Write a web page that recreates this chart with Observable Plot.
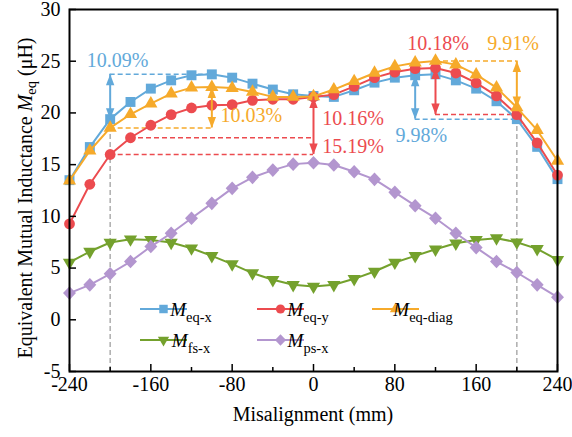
<!DOCTYPE html>
<html><head><meta charset="utf-8">
<script src="https://cdn.jsdelivr.net/npm/d3@7"></script>
<script src="https://cdn.jsdelivr.net/npm/@observablehq/plot@0.6"></script>
<style>
html,body{margin:0;padding:0;background:#fff;}
#chart{width:572px;height:437px;}
#chart svg, #chart svg text, #chart svg tspan { font-family: "Liberation Serif", "Times New Roman", serif !important; }
</style></head><body><div id="chart"></div>
<script>
// ---------- data ----------
const misalignment = [-240,-220,-200,-180,-160,-140,-120,-100,-80,-60,-40,-20,0,20,40,60,80,100,120,140,160,180,200,220,240];
const mEqX    = [13.5,16.7,19.4,21.06,22.35,23.15,23.64,23.73,23.41,22.83,22.26,21.8,21.64,21.55,22.19,22.93,23.41,23.64,23.73,23.15,22.35,21.13,19.4,16.72,13.6];
const mEqY    = [9.27,13.1,15.98,17.6,18.81,19.84,20.48,20.74,20.8,21.22,21.32,21.32,21.55,21.77,22.57,23.41,23.95,24.28,24.34,23.86,22.9,21.64,19.84,17.11,13.99];
const mEqDiag = [13.45,16.34,18.55,19.87,20.9,21.87,22.45,22.5,22.4,22.03,21.55,21.55,21.6,22.26,23.06,23.86,24.5,24.86,25.02,24.67,23.7,22.45,20.52,18.33,15.37];
const mFsX    = [5.54,6.6,7.47,7.79,7.72,7.47,6.92,6.18,5.38,4.51,3.87,3.38,3.22,3.38,3.96,4.67,5.54,6.18,6.82,7.4,7.72,7.89,7.5,6.86,5.8];
const mPsX    = [2.58,3.38,4.45,5.63,7.08,8.37,9.82,11.26,12.71,13.77,14.47,15.05,15.18,14.96,14.31,13.58,12.32,11.03,9.82,8.37,6.98,5.63,4.57,3.38,2.19];

const seriesValues = [mEqX, mEqY, mEqDiag, mFsX, mPsX];
const seriesSubs   = ["eq-x", "eq-y", "eq-diag", "fs-x", "ps-x"];
const seriesColors = ["#62A9DA", "#EC4B4F", "#F6AA2B", "#74A12D", "#B396CF"];

const xTickLabels = [-240,-160,-80,0,80,160,240];
const xMinorTicks = [-200,-120,-40,40,120,200];
const yTickLabels = [-5,0,5,10,15,20,25,30];

// annotation definitions (x positions refer to misalignment values)
const grayGuides = [{x:-200, s:2}, {x:200, s:0}];
const dashedGuides = [
  {s:0, x1:-200, x2:-100, at:-100},
  {s:2, x1:-200, x2:-100, at:-200},
  {s:1, x1:-180, x2:0, at:-180},
  {s:1, x1:-200, x2:0, at:-200},
  {s:0, x1:100, x2:200, at:200},
  {s:1, x1:120, x2:200, at:200},
  {s:2, x1:120, x2:200, at:120}
];
const arrows = [
  {s:0, x:-200, top:-100, bottom:-200},
  {s:2, x:-100, top:-100, bottom:-200},
  {s:1, x:0,    top:0,    bottom:-200},
  {s:0, x:100,  top:100,  bottom:200},
  {s:1, x:120,  top:120,  bottom:200},
  {s:2, x:200,  top:120,  bottom:200}
];
const percentLabels = [
  {s:0, text:"10.09%", x:-223, y:25.1},
  {s:2, text:"10.03%", x:-91.5, y:19.75},
  {s:1, text:"10.16%", x:8.5, y:19.43},
  {s:1, text:"15.19%", x:8.5, y:16.75},
  {s:0, text:"9.98%", x:80.6, y:17.8},
  {s:1, text:"10.18%", x:92.2, y:26.68},
  {s:2, text:"9.91%", x:170.8, y:26.68}
];

// ---------- helpers ----------
const val = (s, x) => seriesValues[s][misalignment.indexOf(x)];
const R = size => Math.sqrt(size / Math.PI);
const symSquare = {draw(c, size){const h = R(size)*0.92; c.rect(-h,-h,2*h,2*h);}};
const symCircle = {draw(c, size){const r = R(size); c.moveTo(r,0); c.arc(0,0,r,0,2*Math.PI);}};
const symTriUp = {draw(c, size){const s = R(size)*2.45, h = s*Math.sqrt(3)/2; c.moveTo(0,-2*h/3); c.lineTo(s/2,h/3); c.lineTo(-s/2,h/3); c.closePath();}};
const symTriDown = {draw(c, size){const s = R(size)*2.45, h = s*Math.sqrt(3)/2; c.moveTo(0,2*h/3); c.lineTo(s/2,-h/3); c.lineTo(-s/2,-h/3); c.closePath();}};
const symDiamond = {draw(c, size){const r = R(size)*1.2; c.moveTo(0,-r*1.05); c.lineTo(r,0); c.lineTo(0,r*1.05); c.lineTo(-r,0); c.closePath();}};
const seriesSymbols = [symSquare, symCircle, symTriUp, symTriDown, symDiamond];
const headUp = {draw(c){c.moveTo(0,0); c.lineTo(4.2,11); c.lineTo(-4.2,11); c.closePath();}};
const headDown = {draw(c){c.moveTo(0,0); c.lineTo(4.2,-11); c.lineTo(-4.2,-11); c.closePath();}};

const W = 572, H = 437, mL = 69, mR = 15, mT = 9, mB = 66;
const plotW = W - mL - mR, plotH = H - mT - mB;
const FONT = "Liberation Serif, Times New Roman, serif";

const rows = seriesValues.map((vals, s) => misalignment.map((x, i) => ({x, y: vals[i], s})));

const seriesMarks = rows.flatMap((data, s) => [
  Plot.line(data, {x: "x", y: "y", stroke: seriesColors[s], strokeWidth: 2}),
  Plot.dot(data, {x: "x", y: "y", fill: seriesColors[s], r: 5.4, symbol: seriesSymbols[s]})
]);

const arrowRows = arrows.map(a => ({x: a.x, y1: val(a.s, a.top), y2: val(a.s, a.bottom), c: seriesColors[a.s]}));

const plot = Plot.plot({
  width: W, height: H, marginLeft: mL, marginRight: mR, marginTop: mT, marginBottom: mB,
  style: {fontFamily: FONT, fontSize: "20px", background: "white", color: "black", overflow: "visible"},
  x: {domain: [-240, 240]},
  y: {domain: [-5, 30]},
  marks: [
    Plot.ruleX(grayGuides, {x: "x", y1: -5, y2: d => val(d.s, d.x), stroke: "#ADADAD", strokeWidth: 1.5, strokeDasharray: "5,3"}),
    Plot.ruleY(dashedGuides, {y: d => val(d.s, d.at), x1: "x1", x2: "x2", stroke: d => seriesColors[d.s], strokeWidth: 1.5, strokeDasharray: "5,3"}),
    ...seriesMarks,
    Plot.ruleX(arrowRows, {x: "x", y1: "y1", y2: "y2", stroke: "c", strokeWidth: 2}),
    Plot.dot(arrowRows, {x: "x", y: "y1", fill: "c", symbol: headUp, r: 4}),
    Plot.dot(arrowRows, {x: "x", y: "y2", fill: "c", symbol: headDown, r: 4}),
    Plot.text(percentLabels, {x: "x", y: "y", text: "text", fill: d => seriesColors[d.s], textAnchor: "start", fontSize: 20}),
    Plot.tickX(xTickLabels, {x: d => d, insetTop: plotH - 7, stroke: "black", strokeWidth: 1.5}),
    Plot.tickX(xMinorTicks, {x: d => d, insetTop: plotH - 4, stroke: "black", strokeWidth: 1.5}),
    Plot.tickY(yTickLabels, {y: d => d, insetRight: plotW - 7, stroke: "black", strokeWidth: 1.5}),
    Plot.frame({stroke: "black", strokeWidth: 2}),
    Plot.axisX({ticks: xTickLabels, tickSize: 0, tickPadding: 5, tickFormat: d => String(d), fontSize: 20, label: null}),
    Plot.axisY({ticks: yTickLabels, tickSize: 0, tickPadding: 9, tickFormat: d => String(d), fontSize: 20, label: null})
  ]
});

const svg = d3.select(plot);

// axis titles
svg.append("text")
  .attr("x", mL + plotW / 2).attr("y", 421)
  .attr("text-anchor", "middle").attr("font-size", 20).attr("fill", "black")
  .text("Misalignment (mm)");

const yt = svg.append("text")
  .attr("transform", `translate(32,${mT + plotH / 2 + 8}) rotate(-90)`)
  .attr("text-anchor", "middle").attr("font-size", 20).attr("fill", "black");
yt.append("tspan").text("Equivalent Mutual Inductance ");
yt.append("tspan").attr("font-style", "italic").text("M");
yt.append("tspan").attr("font-size", 14.5).attr("dy", 4).text("eq");
yt.append("tspan").attr("dy", -4).text(" (\u03BCH)");

// legend
const legendPos = [
  {lx: 140, ly: 309}, {lx: 257, ly: 309}, {lx: 372, ly: 309},
  {lx: 140, ly: 340}, {lx: 257, ly: 340}
];
const lg = svg.append("g");
seriesSubs.forEach((sub, s) => {
  const {lx, ly} = legendPos[s];
  const g = lg.append("g").attr("transform", `translate(${lx},${ly})`);
  g.append("line").attr("x1", 0).attr("x2", 47).attr("y1", 0).attr("y2", 0)
    .attr("stroke", seriesColors[s]).attr("stroke-width", 2);
  g.append("path").attr("transform", "translate(23.5,0)")
    .attr("d", d3.symbol(seriesSymbols[s], Math.PI * 4.6 * 4.6)())
    .attr("fill", seriesColors[s]);
  const t = g.append("text").attr("x", 51).attr("y", 7).attr("fill", "black");
  t.append("tspan").attr("font-style", "italic").attr("font-size", 19).text("M");
  t.append("tspan").attr("font-size", 14.5).attr("dy", 6).text(sub);
});

document.getElementById("chart").appendChild(plot);
</script>
</body></html>
